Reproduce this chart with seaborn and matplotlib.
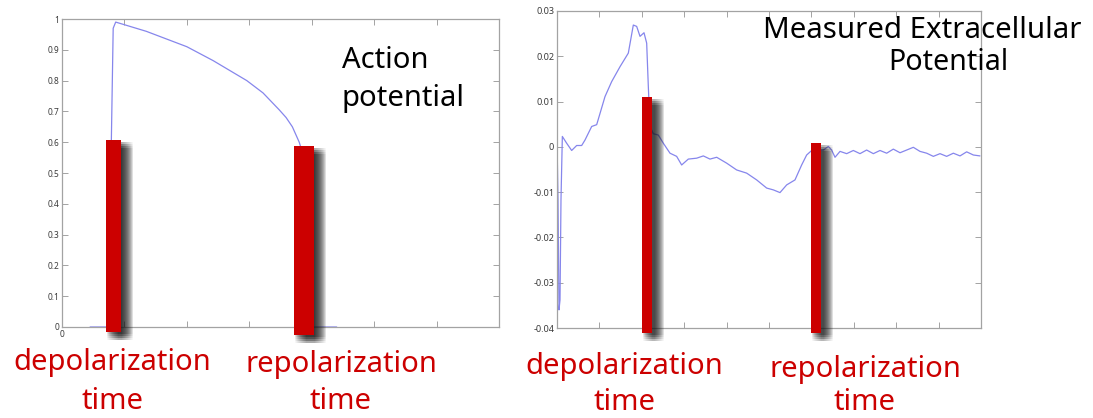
import numpy as np
import pandas as pd
import matplotlib
matplotlib.use("Agg")
import matplotlib.pyplot as plt
import matplotlib.patheffects as pe
import seaborn as sns

# ---------------- data ----------------
# Action potential (left panel)
ap_time = [0.45, 0.79, 0.79, 0.82, 0.86, 1.35, 2.00, 2.42, 2.96, 3.22, 3.48, 3.59, 3.69, 3.80, 3.83, 3.83, 4.40]
ap_value = [0.00, 0.00, 0.60, 0.97, 0.99, 0.96, 0.91, 0.865, 0.80, 0.76, 0.705, 0.68, 0.65, 0.60, 0.58, 0.00, 0.00]
ap_yticks = [0, 0.1, 0.2, 0.3, 0.4, 0.5, 0.6, 0.7, 0.8, 0.9, 1.0]
ap_ytick_labels = ["0", "0.1", "0.2", "0.3", "0.4", "0.5", "0.6", "0.7", "0.8", "0.9", "1"]
ap_xticks = [0, 1, 2, 3, 4, 5, 6, 7]
ap_xtick_labels = ["0", "", "", "", "", "", "", ""]
ap_marker_time = [0.82, 3.88]
ap_marker_top = [0.607, 0.588]
ap_marker_bottom = [-0.016, -0.026]

# Measured extracellular potential (right panel)
ex_time = [0.008, 0.024, 0.047, 0.071, 0.094, 0.126, 0.228, 0.346, 0.464, 0.582, 0.660, 0.818, 0.936,
           1.132, 1.289, 1.486, 1.682, 1.800, 1.879, 1.958, 2.052, 2.115, 2.154, 2.193, 2.272, 2.390,
           2.508, 2.665, 2.822, 2.940, 3.097, 3.294, 3.451, 3.608, 3.766, 4.002, 4.237, 4.473, 4.709,
           4.945, 5.102, 5.259, 5.417, 5.613, 5.770, 5.888, 6.006, 6.281, 6.399, 6.478, 6.557, 6.675,
           6.832, 6.989, 7.146, 7.303, 7.461, 7.618, 7.775, 7.932, 8.090, 8.247, 8.404, 8.561, 8.719,
           8.876, 9.033, 9.190, 9.348, 9.505, 9.662, 9.820, 9.976]
ex_value = [-0.0029, -0.0117, -0.0360, -0.0338, -0.0117, 0.0023, 0.0008, -0.0008, 0.0003, 0.0003, 0.0015,
            0.0045, 0.0049, 0.0111, 0.0144, 0.0177, 0.0207, 0.0269, 0.0266, 0.0244, 0.0252, 0.0229, 0.0133,
            0.0045, 0.0029, 0.0026, 0.0008, -0.0014, -0.0021, -0.0040, -0.0027, -0.0025, -0.0020, -0.0027,
            -0.0023, -0.0036, -0.0051, -0.0058, -0.0073, -0.0091, -0.0095, -0.0101, -0.0084, -0.0073,
            -0.0040, -0.0018, -0.0008, -0.0007, 0.0001, -0.0007, -0.0023, -0.0010, -0.0015, -0.0008,
            -0.0015, -0.0007, -0.0015, -0.0008, -0.0014, -0.0005, -0.0013, -0.0007, -0.0001, -0.0010,
            -0.0014, -0.0021, -0.0015, -0.0021, -0.0014, -0.0020, -0.0011, -0.0018, -0.0020]
ex_yticks = [-0.04, -0.03, -0.02, -0.01, 0.0, 0.01, 0.02, 0.03]
ex_ytick_labels = ["-0.04", "-0.03", "-0.02", "-0.01", "0", "0.01", "0.02", "0.03"]
ex_xticks = [0, 1, 2, 3, 4, 5, 6, 7, 8, 9, 10]
ex_marker_time = [2.12, 6.11]
ex_marker_top = [0.0111, 0.0009]
ex_marker_bottom = [-0.0411, -0.0411]

ap_title_lines = ["Action", "potential"]
ex_title_lines = ["Measured Extracellular", "Potential"]
label_lines = [["depolarization", "time"], ["repolarization", "time"],
               ["depolarization", "time"], ["repolarization", "time"]]

# ---------------- style ----------------
sns.set_theme(style="white")
plt.rcParams["font.family"] = ["Noto Sans", "DejaVu Sans"]

W, H = 1093, 418
fig = plt.figure(figsize=(W / 100, H / 100), dpi=100)

def box(l, r, t, b):
    return [l / W, (H - b) / H, (r - l) / W, (b - t) / H]

ax1 = fig.add_axes(box(62, 499, 19, 327))
ax2 = fig.add_axes(box(557, 981, 11, 328))

line_col = "#8686ec"
red = "#cc0000"
frame_col = "#a3a3a3"

shadow = [pe.SimplePatchShadow(offset=(dx / 1.39, -dy / 1.39), shadow_rgbFace="#1e1e1e", alpha=0.035)
          for dx in range(1, 13) for dy in (2, 4, 6, 8)] + [pe.Normal()]

def style(ax):
    for s in ax.spines.values():
        s.set_visible(True)
        s.set_color(frame_col)
        s.set_linewidth(0.9)
    ax.tick_params(direction="in", length=4, width=0.7, color=frame_col,
                   top=True, right=True, bottom=True, left=True,
                   labelcolor="#3a3a3a", pad=2)
    ax.set_facecolor("white")

# left panel
ap_df = pd.DataFrame({"t": ap_time, "v": ap_value})
sns.lineplot(data=ap_df, x="t", y="v", estimator=None, sort=False, color=line_col, lw=0.9, ax=ax1)
ax1.set_xlim(0, 7)
ax1.set_ylim(0, 1)
ax1.set_yticks(ap_yticks, ap_ytick_labels, fontsize=6)
ax1.set_xticks(ap_xticks, ap_xtick_labels, fontsize=6)
ax1.set_xlabel("")
ax1.set_ylabel("")
style(ax1)
for t, top, bot, w in zip(ap_marker_time, ap_marker_top, ap_marker_bottom, [0.24, 0.32]):
    b = ax1.bar([t], [top - bot], bottom=[bot], width=w, color=red, linewidth=0, clip_on=False, zorder=5)
    for p in b.patches:
        p.set_path_effects(shadow)

# right panel
ex_df = pd.DataFrame({"t": ex_time, "v": ex_value})
sns.lineplot(data=ex_df, x="t", y="v", estimator=None, sort=False, color=line_col, lw=0.9, ax=ax2)
ax2.set_xlim(0, 10)
ax2.set_ylim(-0.04, 0.03)
ax2.set_yticks(ex_yticks, ex_ytick_labels, fontsize=6.5)
ax2.set_xticks(ex_xticks, [""] * len(ex_xticks))
ax2.set_xlabel("")
ax2.set_ylabel("")
style(ax2)
for t, top, bot in zip(ex_marker_time, ex_marker_top, ex_marker_bottom):
    b = ax2.bar([t], [top - bot], bottom=[bot], width=0.236, color=red, linewidth=0, clip_on=False, zorder=5)
    for p in b.patches:
        p.set_path_effects(shadow)

def ftext(x, y, s, **kw):
    fig.text(x / W, (H - y) / H, s, va="baseline", **kw)

# titles
ftext(342, 68, ap_title_lines[0], fontsize=21, color="black")
ftext(342, 106, ap_title_lines[1], fontsize=21, color="black")
ftext(763, 38, ex_title_lines[0], fontsize=21.2, color="black")
ftext(888, 70, ex_title_lines[1], fontsize=20.6, color="black")

# red labels
label_pos = [(112.5, 370, 409), (341, 372, 409), (624, 374, 410), (865, 377, 410)]
for (cx, y1, y2), (l1, l2) in zip(label_pos, label_lines):
    ftext(cx, y1, l1, fontsize=21, color=red, ha="center")
    ftext(cx, y2, l2, fontsize=21, color=red, ha="center")

fig.savefig("out.png", dpi=100, facecolor="white")
